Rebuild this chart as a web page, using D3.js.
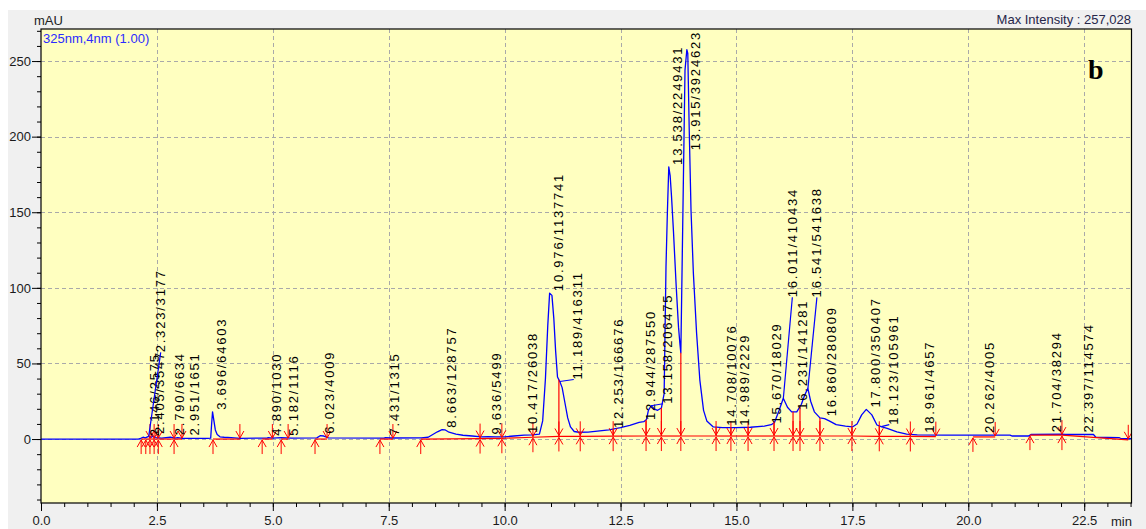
<!DOCTYPE html>
<html>
<head>
<meta charset="utf-8">
<script src="https://cdn.jsdelivr.net/npm/d3@7"></script>
<style>
  html, body { margin: 0; padding: 0; background: #ffffff; }
  svg { display: block; }
</style>
</head>
<body>
<svg id="chart" width="1146" height="529"></svg>
<script>
// 325 nm detector trace: [retention time (min), intensity (mAU)]
const trace = [
  [0, 0], [2.10, 0], [2.15, 0.5], [2.20, 1.2], [2.25, 0.8], [2.32, 1.8], [2.38, 1.2], [2.42, 2.0],
  [2.48, 1.0], [2.60, 0.6], [2.79, 1.2], [2.88, 0.6], [2.95, 1.0], [3.05, 0.5], [3.60, 0.5],
  [3.66, 0.6], [3.68, 10], [3.70, 18], [3.72, 14], [3.76, 6], [3.80, 3], [3.86, 1.5], [3.95, 1.2],
  [4.10, 1.0], [4.30, 0.5], [4.88, 0.6], [4.90, 0.9], [5.00, 0.6], [5.18, 0.9], [5.40, 0.6],
  [5.95, 0.8], [6.02, 2.2], [6.10, 2.0], [6.20, 0.8], [7.40, 0.6], [7.43, 1.0], [7.55, 0.7],
  [8.20, 0.8], [8.35, 1.2], [8.45, 3.0], [8.55, 4.8], [8.65, 6.2], [8.72, 6.0], [8.80, 4.5],
  [8.95, 3.2], [9.10, 2.5], [9.30, 2.0], [9.50, 1.5], [9.64, 1.6], [9.80, 1.4], [10.00, 1.5],
  [10.20, 2.0], [10.42, 2.6], [10.60, 2.8], [10.75, 3.2], [10.82, 12], [10.88, 40], [10.93, 75],
  [10.97, 96.5], [11.02, 95], [11.06, 80], [11.10, 58], [11.14, 41], [11.19, 38], [11.24, 34],
  [11.30, 24], [11.36, 14], [11.42, 8], [11.50, 5], [11.60, 4.5], [11.80, 4.6], [12.00, 5.2],
  [12.25, 6.0], [12.50, 7.5], [12.70, 9.0], [12.90, 11.0], [13.00, 11.5], [13.06, 13],
  [13.10, 19], [13.16, 22], [13.22, 20], [13.30, 19], [13.38, 20.5], [13.44, 30], [13.48, 114],
  [13.51, 150], [13.54, 180], [13.57, 174], [13.60, 160], [13.64, 138], [13.70, 101],
  [13.75, 74], [13.78, 63], [13.80, 57], [13.84, 140], [13.89, 244], [13.93, 257.6],
  [13.95, 255], [13.98, 206], [14.02, 151], [14.07, 110], [14.14, 70], [14.21, 39], [14.29, 19],
  [14.36, 12], [14.50, 8], [14.70, 7.5], [14.99, 7.5], [15.30, 7.8], [15.60, 8.5], [15.75, 9.5],
  [15.82, 11], [15.92, 19], [16.01, 27], [16.10, 21], [16.19, 18], [16.30, 18], [16.40, 23],
  [16.47, 29], [16.54, 33.5], [16.60, 25], [16.68, 18], [16.80, 14], [16.90, 13.5], [17.00, 12],
  [17.15, 9.5], [17.35, 8.5], [17.50, 8], [17.60, 10], [17.70, 16], [17.80, 19.6], [17.92, 16],
  [18.03, 9.3], [18.12, 8.2], [18.25, 7], [18.46, 4.8], [18.67, 3.3], [18.90, 2.8], [19.50, 2.6],
  [20.50, 2.6], [20.90, 2.6], [20.95, 2.0], [21.30, 2.0], [21.35, 3.0], [22.00, 3.2],
  [22.10, 3.0], [22.70, 3.0], [22.75, 1.2], [23.25, 1.0], [23.30, 0.2], [23.52, 0.2]
];

// integrated peaks: retention time (min) and area
const peakRT = [2.146, 2.323, 2.405, 2.790, 2.951, 3.696, 4.890, 5.182, 6.023, 7.431, 8.663,
  9.636, 10.417, 10.976, 11.189, 12.253, 12.944, 13.158, 13.538, 13.915, 14.708, 14.989,
  15.670, 16.011, 16.231, 16.541, 16.860, 17.800, 18.123, 18.961, 20.262, 21.704, 22.397];
const peakArea = [2575, 3177, 3547, 6634, 1651, 64603, 1030, 1116, 4009, 1315, 128757,
  5499, 26038, 1137741, 416311, 166676, 287550, 206475, 2249431, 3924623, 10076, 2229,
  18029, 410434, 141281, 541638, 280809, 350407, 105961, 4657, 4005, 38294, 114574];

// integration events: time (min), kind (u = peak start, d = peak end, b = end + start), baseline (mAU)
const eventTime = [2.16, 2.26, 2.35, 2.44, 2.53, 2.87, 3.04, 3.71, 4.29, 4.77, 4.99, 5.18, 5.33,
  5.91, 6.17, 7.31, 7.59, 8.19, 9.47, 9.94, 10.61, 11.17, 11.63, 12.34, 13.05, 13.38, 13.80,
  14.56, 14.88, 15.25, 15.81, 16.22, 16.37, 16.80, 17.49, 18.08, 18.75, 19.30, 20.10, 20.58,
  21.33, 22.02, 23.45];
const eventKind = ["u", "u", "b", "b", "b", "b", "d", "u", "d", "u", "d", "u", "d",
  "u", "d", "u", "d", "u", "b", "b", "b", "b", "b", "b", "b", "b", "b",
  "b", "b", "b", "b", "b", "b", "b", "b", "b", "b", "d", "u", "d",
  "u", "b", "d"];
const eventBase = [0, 0, 0, 0, 0, 0, 0, 0, 0, 0, 0, 0, 0,
  0, 0, 0, 0, 0, 0.3, 0.5, 1.2, 1.7, 1.8, 1.9, 2.0, 2.0, 2.0,
  2.0, 2.0, 2.0, 2.0, 2.0, 2.0, 2.0, 2.0, 1.8, 1.7, 1.6, 1.4, 1.4,
  2.6, 2.6, -0.5];

// axis ticks
const xTicks = [0, 2.5, 5, 7.5, 10, 12.5, 15, 17.5, 20, 22.5];
const yTicks = [0, 50, 100, 150, 200, 250];
const xMinorTicks = d3.range(0, 23.51, 0.5);
const yMinorTicks = d3.range(-40, 271, 10);

// label placement tweaks for crowded peaks (px): sideways shift, lift, leader line
const labelNudge = {
  "2.146": { dx: 5 },
  "2.323": { dx: 3, lift: 82, leader: true },
  "2.405": { dx: -2 },
  "2.951": { dx: 8 },
  "5.182": { dx: 3 },
  "11.189": { dx: 9, leader: true },
  "13.158": { dx: 7, leader: true },
  "16.011": { lift: 99, leader: true },
  "16.541": { lift: 89, leader: true },
  "18.123": { dx: 3, leader: true }
};

const svg = d3.select("#chart");
const W = 1146, H = 529;
const plot = { left: 41, right: 1131.5, top: 29, bottom: 503 };
const FONT = "'Liberation Sans', Arial, sans-serif";

const x = d3.scaleLinear().domain([0, 23.52]).range([plot.left, plot.right]);
const y = d3.scaleLinear().domain([-42.3, 271.2]).range([plot.bottom, plot.top]);

// window background
svg.append("rect").attr("width", W).attr("height", H).attr("fill", "#ffffff");
svg.append("rect").attr("x", 8).attr("y", 10).attr("width", W - 8).attr("height", H - 10)
  .attr("fill", "#f0f0f0");

// plot area
svg.append("rect")
  .attr("x", plot.left).attr("y", plot.top)
  .attr("width", plot.right - plot.left).attr("height", plot.bottom - plot.top)
  .attr("fill", "#ffffc0");

svg.append("clipPath").attr("id", "plotClip").append("rect")
  .attr("x", plot.left).attr("y", plot.top)
  .attr("width", plot.right - plot.left).attr("height", plot.bottom - plot.top);

// dashed grid
const grid = svg.append("g").attr("stroke", "#a9a9a9").attr("stroke-width", 1)
  .attr("stroke-dasharray", "4,3");
grid.selectAll("line.v").data(xTicks.filter(d => d > 0)).join("line")
  .attr("x1", d => Math.round(x(d)) + 0.5).attr("x2", d => Math.round(x(d)) + 0.5)
  .attr("y1", plot.top).attr("y2", plot.bottom);
grid.selectAll("line.h").data(yTicks).join("line")
  .attr("y1", d => Math.round(y(d)) + 0.5).attr("y2", d => Math.round(y(d)) + 0.5)
  .attr("x1", plot.left).attr("x2", plot.right);

const layer = svg.append("g").attr("clip-path", "url(#plotClip)");

// chromatogram
const line = d3.line().x(d => x(d[0])).y(d => y(d[1]));
layer.append("path").datum(trace)
  .attr("d", line).attr("fill", "none")
  .attr("stroke", "#0000ff").attr("stroke-width", 1.3).attr("stroke-linejoin", "round");

// intensity of the trace at a given time
function valueAt(t) {
  const i = d3.bisector(d => d[0]).right(trace, t);
  if (i <= 0) return trace[0][1];
  if (i >= trace.length) return trace[trace.length - 1][1];
  const a = trace[i - 1], b = trace[i];
  return a[1] + (b[1] - a[1]) * (t - a[0]) / (b[0] - a[0]);
}
function apexAt(t) {
  let v = valueAt(t);
  trace.forEach(d => { if (Math.abs(d[0] - t) <= 0.03) v = Math.max(v, d[1]); });
  return v;
}

// integration baseline, drop lines and event marks
const events = eventTime.map((t, i) => ({ t, kind: eventKind[i], base: eventBase[i] }));
const red = layer.append("g").attr("stroke", "#ff0000").attr("stroke-width", 1.2).attr("fill", "none");
events.forEach((e, i) => {
  const nxt = events[i + 1];
  if (nxt && (e.kind === "u" || e.kind === "b")) {
    red.append("line")
      .attr("x1", x(e.t)).attr("y1", y(e.base))
      .attr("x2", x(nxt.t)).attr("y2", y(nxt.base));
  }
  if (e.kind === "b") {
    const top = valueAt(e.t);
    if (top - e.base > 1) {
      red.append("line")
        .attr("x1", x(e.t)).attr("x2", x(e.t))
        .attr("y1", y(e.base)).attr("y2", y(top));
    }
  }
});
red.selectAll("path.mark").data(events).join("path")
  .attr("stroke-width", 1)
  .attr("d", e => {
    const cx = x(e.t), by = y(e.base);
    const up = `M${cx},${by + 15}L${cx},${by + 1}M${cx - 4},${by + 8}L${cx},${by + 1}L${cx + 4},${by + 8}`;
    const down = `M${cx},${by - 15}L${cx},${by - 1}M${cx - 4},${by - 8}L${cx},${by - 1}L${cx + 4},${by - 8}`;
    return e.kind === "u" ? up : e.kind === "d" ? down : up + down;
  });

// peak labels "RT/area", written upwards from the apex
const labels = svg.append("g");
const leaders = svg.append("g").attr("stroke", "#0000ff").attr("stroke-width", 1.2);
peakRT.forEach((rt, i) => {
  const key = rt.toFixed(3);
  const nudge = labelNudge[key] || {};
  const px = x(rt), py = y(apexAt(rt));
  const lx = px + 4 + (nudge.dx || 0);
  let ly = py - 2 - (nudge.lift || 0);
  const txt = labels.append("text")
    .attr("font-family", FONT).attr("font-size", 13).attr("letter-spacing", 1.8)
    .attr("fill", "#000").text(key + "/" + peakArea[i]);
  const len = txt.node().getComputedTextLength();
  if (ly - len < plot.top + 2) ly = plot.top + 2 + len;
  txt.attr("transform", `translate(${lx + 9.5},${ly}) rotate(-90)`);
  if (nudge.leader) {
    leaders.append("line")
      .attr("x1", px).attr("y1", py)
      .attr("x2", lx + (nudge.lift ? 5 : 1)).attr("y2", ly);
  }
});

// frame
svg.append("rect")
  .attr("x", plot.left).attr("y", plot.top)
  .attr("width", plot.right - plot.left).attr("height", plot.bottom - plot.top)
  .attr("fill", "none").attr("stroke", "#000").attr("stroke-width", 1.2);

// axes
function styleAxis(g) {
  g.select(".domain").remove();
  g.selectAll(".tick line").attr("stroke", "#000");
  g.selectAll(".tick text").attr("font-family", FONT).attr("font-size", 13).attr("fill", "#1a1a1a");
}
svg.append("g").attr("transform", `translate(${plot.left},0)`)
  .call(d3.axisLeft(y).tickValues(yMinorTicks).tickSize(4).tickFormat(""))
  .call(styleAxis);
svg.append("g").attr("transform", `translate(${plot.left},0)`)
  .call(d3.axisLeft(y).tickValues(yTicks).tickSize(9).tickPadding(1).tickFormat(d3.format("d")))
  .call(styleAxis);
svg.append("g").attr("transform", `translate(0,${plot.bottom})`)
  .call(d3.axisBottom(x).tickValues(xMinorTicks).tickSize(4).tickFormat(""))
  .call(styleAxis);
svg.append("g").attr("transform", `translate(0,${plot.bottom})`)
  .call(d3.axisBottom(x).tickValues(xTicks).tickSize(8).tickPadding(5).tickFormat(d3.format(".1f")))
  .call(styleAxis);

// captions
svg.append("text").attr("x", 34).attr("y", 25)
  .attr("font-family", FONT).attr("font-size", 13).attr("fill", "#222").text("mAU");
svg.append("text").attr("x", 1111).attr("y", 526)
  .attr("font-family", FONT).attr("font-size", 13).attr("fill", "#222").text("min");
svg.append("text").attr("x", 43).attr("y", 43)
  .attr("font-family", FONT).attr("font-size", 13).attr("fill", "#2b2bff").text("325nm,4nm (1.00)");
svg.append("text").attr("x", 1131).attr("y", 24).attr("text-anchor", "end")
  .attr("font-family", FONT).attr("font-size", 13).attr("fill", "#26264a").text("Max Intensity : 257,028");
svg.append("text").attr("x", 1088).attr("y", 79)
  .attr("font-family", "'Liberation Serif', 'Times New Roman', serif").attr("font-weight", "bold")
  .attr("font-size", 28).attr("fill", "#000").text("b");
</script>
</body>
</html>
